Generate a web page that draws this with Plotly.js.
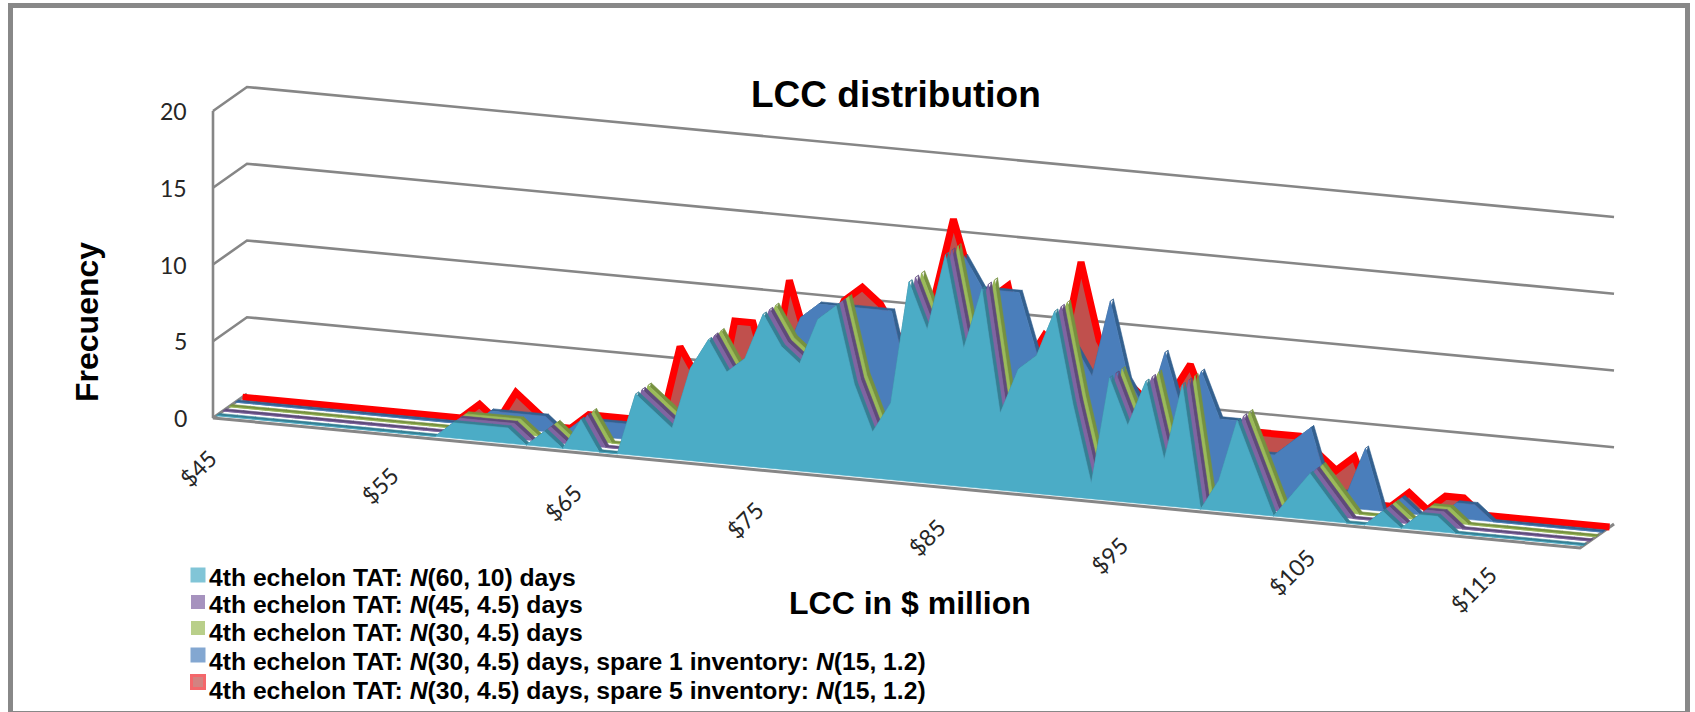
<!DOCTYPE html>
<html>
<head>
<meta charset="utf-8">
<script src="https://cdn.plot.ly/plotly-3.0.1.min.js"></script>
<style>html,body{margin:0;padding:0;background:#fff}#c{width:1695px;height:712px}</style>
</head>
<body>
<div id="c"></div>
<script>
const lcc = [45,46,47,48,49,50,51,52,53,54,55,56,57,58,59,60,61,62,63,64,65,66,67,68,69,70,71,72,73,74,75,76,77,78,79,80,81,82,83,84,85,86,87,88,89,90,91,92,93,94,95,96,97,98,99,100,101,102,103,104,105,106,107,108,109,110,111,112,113,114,115,116,117,118,119,120];
const tat60 = [0,0,0,0,0,0,0,0,0,0,0,0,0,1,1,1,1,0,1,0,2,0,0,4,3,2,6,8,6,7,10,8,7,10,11,6,3,5,13,10,15,9,13,5,8,9,12,6,1,8,5,8,3,8,0,2,6,3,0,1.5,3,1.5,0,0,1,0,1,1,0,0,0,0,0,0,0,0];
const tat45 = [0,0,0,0,0,0,0,0,0,0,0,0,0,1,1,1,1,0,1,0,2,0,0,4,3,2,6,8,6,7,10,8,7,10,11,6,3,5,13,10,15,9,13,5,8,9,12,6,1,8,5,8,3,8,0,2,6,3,0,1.5,3,1.5,0,0,1,0,1,1,0,0,0,0,0,0,0,0];
const tat30 = [0,0,0,0,0,0,0,0,0,0,0,0,0,1,1,1,1,0,1,0,2,0,0,4,3,2,6,8,6,7,10,8,7,10,11,6,3,5,13,10,15,9,13,5,8,9,12,6,1,8,5,8,3,8,0,2,6,3,0,1.5,3,1.5,0,0,1,0,1,1,0,0,0,0,0,0,0,0];
const spare1 = [0,0,0,0,0,0,0,0,0,0,0,0,0,0,1,1,1,1,0,1,1,1,1,1,1,2,5,5,6,8,6,9,10,10,10,10,10,5,8,10,14,12,12,12,8,8,9,7,12,7,5,9,5,8,5,5,3,3,4,5,1,1,4,0,1,0,0,1,1,0,0,0,0,0,0,0];
const spare5 = [0,0,0,0,0,0,0,0,0,0,0,0,0,1,0,2,1,0,0,1,1,1,1,1,6,4,2,8,8,4,11,7,7,10,11,10,8,7,11,16,12,11,12,7,9,8,14,9,7,6,5,6,8,5,4,4,4,4,4,3,2,3,0,0,1,0,1,1,0,0,0,0,0,0,0,0];
const freqTicks = [0,5,10,15,20];
const gridLevels = [5,10,15,20];
const lccTicks = ["$45","$55","$65","$75","$85","$95","$105","$115"];
const lccTickValues = [45,55,65,75,85,95,105,115];
const legendLabels = [
  "4th echelon TAT: <i>N</i>(60, 10) days",
  "4th echelon TAT: <i>N</i>(45, 4.5) days",
  "4th echelon TAT: <i>N</i>(30, 4.5) days",
  "4th echelon TAT: <i>N</i>(30, 4.5) days, spare 1 inventory: <i>N</i>(15, 1.2)",
  "4th echelon TAT: <i>N</i>(30, 4.5) days, spare 5 inventory: <i>N</i>(15, 1.2)"
];

// oblique projection of the chart's (LCC, frequency, depth) space onto the page
const px = (c, d) => 213 + (c - 45) * 18.227 + 34 * d;
const py = (c, f, d) => 418 + (c - 45) * 1.733 - 24 * d - 15.35 * f;

const traces = [];
function path(xs, ys, color, width) {
  traces.push({type:'scatter', mode:'lines', x:xs, y:ys, hoverinfo:'skip', showlegend:false,
    line:{color:color, width:width, shape:'linear'}});
}
function fillPoly(xs, ys, color) {
  traces.push({type:'scatter', mode:'lines', x:xs, y:ys, fill:'toself', fillcolor:color, hoverinfo:'skip',
    showlegend:false, line:{color:color, width:0.6}});
}

const grey = '#868686';
const c0 = lcc[0], c1 = lcc[lcc.length - 1];
gridLevels.forEach(f => {
  path([px(c0,0), px(c0,1), px(c1,1)], [py(c0,f,0), py(c0,f,1), py(c1,f,1)], grey, 2.6);
});
path([px(c0,0), px(c0,0)], [py(c0,0,0), py(c0,20,0)], grey, 2.6);
path([px(c0,1), px(c0,0), px(c1,0), px(c1,1)], [py(c0,0,1), py(c0,0,0), py(c1,0,0), py(c1,0,1)], grey, 3);

function series(vals, d, face, side, thick) {
  const xs = [], ys = [];
  for (let i = 0; i < lcc.length - 1; i++) {
    const a = lcc[i], b = lcc[i + 1];
    xs.push(px(a,d), px(b,d), px(b,d + thick), px(a,d + thick), px(a,d), null);
    ys.push(py(a,vals[i],d), py(b,vals[i+1],d), py(b,vals[i+1],d + thick), py(a,vals[i],d + thick), py(a,vals[i],d), null);
  }
  fillPoly(xs, ys, side);
  const fx = lcc.map(c => px(c,d)), fy = lcc.map((c,i) => py(c,vals[i],d));
  fx.push(px(c1,d), px(c0,d), px(c0,d));
  fy.push(py(c1,0,d), py(c0,0,d), py(c0,vals[0],d));
  fillPoly(fx, fy, face);
}

// back to front
const redD = 0.87;
{
  const fx = lcc.map(c => px(c,redD)), fy = lcc.map((c,i) => py(c,spare5[i],redD));
  fx.push(px(c1,redD), px(c0,redD), px(c0,redD));
  fy.push(py(c1,0,redD), py(c0,0,redD), py(c0,spare5[0],redD));
  fillPoly(fx, fy, '#c0504d');
  traces.push({type:'scatter', mode:'lines', x:lcc.map(c => px(c,redD)), y:lcc.map((c,i) => py(c,spare5[i],redD)),
    hoverinfo:'skip', showlegend:false, line:{color:'#ff0000', width:7}});
}
series(spare1, 0.66, '#4a7ebb', '#33608f', 0.09);
series(tat30, 0.47, '#9bbb59', '#76913f', 0.09);
series(tat45, 0.29, '#8064a2', '#5e4a7a', 0.09);
series(tat60, 0.10, '#4bacc6', '#357f93', 0.09);

// legend swatches
const rowY = [577, 604, 632, 661, 690];
const swatchY = [575, 602, 628, 655, 682];
const swatchFill = ['#4bacc6','#8064a2','#9bbb59','#4f81bd','#c0504d'];
traces.push({type:'scatter', mode:'markers', x:swatchY.map(() => 198), y:swatchY,
  hoverinfo:'skip', showlegend:false,
  marker:{symbol:'square', size:[15,14,14,15,13], color:swatchFill,
    line:{color:['rgba(0,0,0,0)','rgba(0,0,0,0)','rgba(0,0,0,0)','rgba(0,0,0,0)','#f0282d'], width:[0,0,0,0,3]}}});

const sans = '"Liberation Sans", Arial, sans-serif';
const ann = [];
ann.push({x:896, y:94, text:'<b>LCC distribution</b>', font:{family:sans, size:37, color:'#000'}});
ann.push({x:87, y:322, text:'<b>Frecuency</b>', textangle:-90, font:{family:sans, size:32, color:'#000'}});
ann.push({x:910, y:603, text:'<b>LCC in $ million</b>', font:{family:sans, size:32, color:'#000'}});
freqTicks.forEach(f => ann.push({x:189, y:py(c0,f,0), xanchor:'right', text:String(f),
  font:{family:'Lato, sans-serif', size:23, color:'#262626'}}));
lccTicks.forEach((t,i) => ann.push({x:px(lccTickValues[i],0) - 15, y:py(lccTickValues[i],0,0) + 50, text:t, textangle:-45,
  font:{family:'Lato, sans-serif', size:23, color:'#262626'}}));
legendLabels.forEach((t,i) => ann.push({x:207, y:rowY[i], xanchor:'left', text:'<b>' + t + '</b>',
  font:{family:sans, size:24.7, color:'#000'}}));
ann.forEach(a => { a.xref='x'; a.yref='y'; a.showarrow=false; if(!a.xanchor) a.xanchor='center'; a.yanchor='middle'; });

const layout = {
  width:1695, height:712, margin:{l:0,r:0,t:0,b:0}, paper_bgcolor:'#fff', plot_bgcolor:'#fff', showlegend:false,
  xaxis:{range:[0,1695], visible:false, fixedrange:true},
  yaxis:{range:[712,0], visible:false, fixedrange:true},
  annotations:ann,
  shapes:[{type:'rect', xref:'x', yref:'y', x0:10.5, y0:5.5, x1:1687.5, y1:713.5, line:{color:'#888888', width:5}, fillcolor:'rgba(0,0,0,0)', layer:'above'}]
};
Plotly.newPlot('c', traces, layout, {displayModeBar:false, staticPlot:true});
</script>
</body>
</html>
